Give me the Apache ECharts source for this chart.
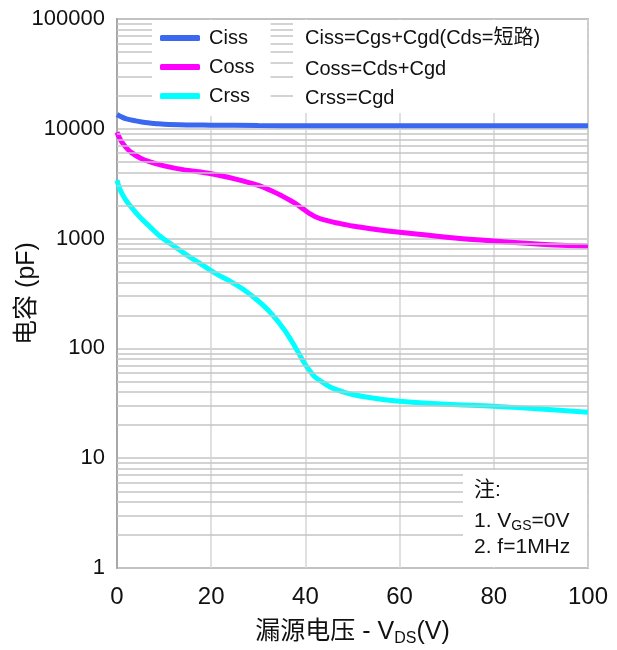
<!DOCTYPE html>
<html>
<head>
<meta charset="utf-8">
<script src="https://cdn.jsdelivr.net/npm/echarts@6/dist/echarts.min.js"></script>
<style>html,body{margin:0;padding:0;background:#fff}#c{width:617px;height:650px}</style>
</head>
<body>
<div id="c"></div>
<script>
// ---- data ----
var cissV = [0, 1, 2, 4, 6, 8, 10, 15, 20, 30, 40, 60, 80, 100];
var cissC = [13500, 12800, 12300, 11800, 11400, 11200, 11000, 10850, 10800, 10700, 10650, 10650, 10650, 10650];

var cossV = [0, 0.5, 1, 2, 3, 5, 7, 10, 14, 20, 25, 30, 33, 35, 37, 38, 39, 40, 41, 42, 44, 47, 50, 55, 60, 70, 80, 90, 100];
var cossC = [9300, 8300, 7600, 6700, 6100, 5400, 5000, 4600, 4250, 3900, 3500, 3050, 2700, 2450, 2200, 2070, 1930, 1800, 1680, 1590, 1480, 1380, 1300, 1210, 1140, 1030, 950, 890, 850];

var crssV = [0, 0.5, 1, 2, 3.5, 5, 7, 9, 12, 15, 18, 21, 24, 27, 30, 32, 34, 35, 36, 37, 38, 39, 40, 41, 42, 44, 46, 50, 55, 60, 70, 80, 90, 100];
var crssC = [3400, 2900, 2600, 2200, 1830, 1550, 1280, 1060, 860, 700, 580, 480, 410, 340, 270, 225, 180, 158, 138, 118, 100, 84, 71, 62, 55, 48, 43, 38, 35, 33, 31, 29.7, 28, 26.2];

var seriesNames = ['Ciss', 'Coss', 'Crss'];
var xTicks = [0, 20, 40, 60, 80, 100];
var yTicks = [1, 10, 100, 1000, 10000, 100000];
var minorGrid = [];
[1, 10, 100, 1000, 10000].forEach(function (d) { for (var k = 2; k <= 9; k++) minorGrid.push(d * k); });

var formulas = ['Ciss=Cgs+Cgd(Cds=短路)', 'Coss=Cds+Cgd', 'Crss=Cgd'];

// ---- chart ----
var FONT = "'Liberation Sans', 'Noto Sans CJK SC', sans-serif";
function pairs(xs, ys) { return xs.map(function (x, i) { return [x, ys[i]]; }); }
var colors = ['#3b68f0', '#ff00ff', '#00ffff'];

var chart = echarts.init(document.getElementById('c'), null, { renderer: 'canvas' });
var option = {
  animation: false,
  textStyle: { fontFamily: FONT },
  grid: { left: 117, right: 29, top: 19, bottom: 82, containLabel: false, outerBoundsMode: 'none',
          show: true, borderColor: '#bdbdbd', borderWidth: 2, backgroundColor: 'transparent' },
  legend: {
    data: seriesNames, orient: 'vertical', left: 152, top: 20, zlevel: 1,
    backgroundColor: '#ffffff', padding: [8, 16, 10, 8],
    icon: 'roundRect', itemWidth: 40, itemHeight: 6, itemGap: 9,
    textStyle: { fontSize: 20, color: '#111', fontFamily: FONT, padding: [0, 0, 0, 4] },
    selectedMode: false
  },
  xAxis: {
    type: 'value', min: 0, max: 100, interval: 20,
    axisLine: { show: false }, axisTick: { show: false },
    splitLine: { show: true, lineStyle: { color: '#d6d6d6', width: 1.5 } },
    axisLabel: { fontSize: 24, color: '#111', margin: 17, fontFamily: FONT,
                 formatter: function (v) { return String(v); } },
    name: '{a|漏源电压 - V}{s|DS}{a|(V)}', nameLocation: 'middle', nameGap: 49, nameMoveOverlap: false,
    nameTextStyle: {
      rich: {
        a: { fontSize: 25, color: '#111', fontFamily: FONT, lineHeight: 30 },
        s: { fontSize: 16, color: '#111', fontFamily: FONT, lineHeight: 16, verticalAlign: 'bottom' }
      }
    }
  },
  yAxis: {
    type: 'log', logBase: 10, min: 1, max: 100000,
    axisLine: { show: true, lineStyle: { color: '#a8a8a8', width: 2 } }, axisTick: { show: false },
    splitLine: { show: true, lineStyle: { color: '#c4c4c4', width: 1.5 } },
    axisLabel: { fontSize: 22, color: '#111', margin: 12, fontFamily: FONT,
                 formatter: function (v) { return String(v); } },
    name: '电容 (pF)', nameLocation: 'middle', nameGap: 77, nameMoveOverlap: false,
    nameTextStyle: { fontSize: 25, color: '#111', fontFamily: FONT }
  },
  graphic: [
    { type: 'rect', zlevel: 1, z: 10, shape: { x: 293, y: 20, width: 294, height: 93 }, style: { fill: '#fff' } },
    { type: 'text', zlevel: 1, z: 11, x: 305, y: 28, style: { text: formulas[0], fontSize: 20, fontFamily: FONT, fill: '#111' } },
    { type: 'text', zlevel: 1, z: 11, x: 305, y: 59, style: { text: formulas[1], fontSize: 20, fontFamily: FONT, fill: '#111' } },
    { type: 'text', zlevel: 1, z: 11, x: 305, y: 88, style: { text: formulas[2], fontSize: 20, fontFamily: FONT, fill: '#111' } },
    { type: 'rect', zlevel: 1, z: 10, shape: { x: 463, y: 470, width: 124, height: 97 }, style: { fill: '#fff' } },
    { type: 'text', zlevel: 1, z: 11, x: 474, y: 480, style: { text: '注:', fontSize: 21, fontFamily: FONT, fill: '#111' } },
    { type: 'text', zlevel: 1, z: 11, x: 474, y: 509, style: { text: '{a|1. V}{s|GS}{a|=0V}', fontFamily: FONT, fill: '#111',
        rich: { a: { fontSize: 21, lineHeight: 24, fontFamily: FONT, fill: '#111' }, s: { fontSize: 14, lineHeight: 14, verticalAlign: 'bottom', fontFamily: FONT, fill: '#111' } } } },
    { type: 'text', zlevel: 1, z: 11, x: 474, y: 537, style: { text: '2. f=1MHz', fontSize: 21, fontFamily: FONT, fill: '#111' } }
  ],
  series: [
    {
      name: 'grid-minor', type: 'line', data: [], z: 1, silent: true,
      markLine: {
        silent: true, symbol: ['none', 'none'], label: { show: false },
        lineStyle: { color: '#c4c4c4', width: 1.5, type: 'solid' },
        data: minorGrid.map(function (v) { return { yAxis: v }; })
      }
    },
    { name: seriesNames[0], type: 'line', data: pairs(cissV, cissC), smooth: 0.35, showSymbol: false, z: 3,
      lineStyle: { width: 5, color: colors[0] }, itemStyle: { color: colors[0] } },
    { name: seriesNames[1], type: 'line', data: pairs(cossV, cossC), smooth: 0.35, showSymbol: false, z: 3,
      lineStyle: { width: 5, color: colors[1] }, itemStyle: { color: colors[1] } },
    { name: seriesNames[2], type: 'line', data: pairs(crssV, crssC), smooth: 0.35, showSymbol: false, z: 3,
      lineStyle: { width: 5, color: colors[2] }, itemStyle: { color: colors[2] } }
  ]
};
chart.setOption(option);
</script>
</body>
</html>
